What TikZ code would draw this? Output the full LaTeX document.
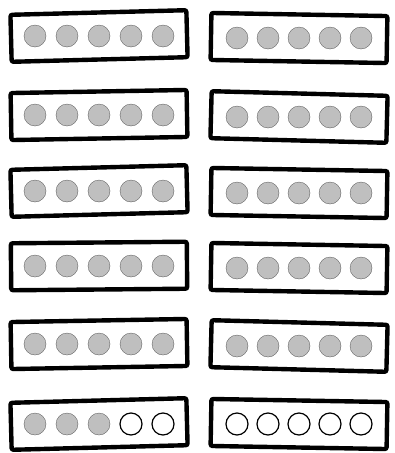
\documentclass[tikz,border=0pt]{standalone}
\usetikzlibrary{calc}

\begin{document}
\begin{tikzpicture}[
    x=1pt, y=-1pt,
    tray/.style={draw=black, line width=4.4pt, rounded corners=2pt,
                 minimum width=176pt, minimum height=47pt, inner sep=0pt},
    full/.style={circle, fill=gray!50, draw=gray!60!black, line width=0.3pt,
                 minimum size=22pt, inner sep=0pt},
    empty/.style={circle, draw=black, line width=1.2pt, fill=white,
                  minimum size=22pt, inner sep=0pt}
  ]
  \useasboundingbox (0,0) rectangle (395,453);
  % Rows 1-5: all counters filled
  \foreach \r/\y/\a/\b in {1/36/1.5/-1, 2/115/1/-1.5, 3/191/1.5/-1,
                           4/266/0.5/-1, 5/344/1/-1.5} {
    \node[tray, rotate=\a] (tL\r) at (99,\y) {};
    \node[tray, rotate=\b] (tR\r) at (299,\y+2) {};
    \foreach \k in {1,...,5} {
      \node[full] (dL\r\k) at ($(tL\r.center)+(\k*32-96,0)$) {};
      \node[full] (dR\r\k) at ($(tR\r.center)+(\k*31-93,0)$) {};
    }
  }
  % Row 6: left three filled, right none
  \node[tray, rotate=1.5] (tL6) at (99,424) {};
  \node[tray, rotate=-1] (tR6) at (299,424) {};
  \foreach \k in {1,2,3}
    \node[full] (dL6\k) at ($(tL6.center)+(\k*32-96,0)$) {};
  \foreach \k in {4,5}
    \node[empty] (dL6\k) at ($(tL6.center)+(\k*32-96,0)$) {};
  \foreach \k in {1,...,5}
    \node[empty] (dR6\k) at ($(tR6.center)+(\k*31-93,0)$) {};
\end{tikzpicture}
\end{document}
